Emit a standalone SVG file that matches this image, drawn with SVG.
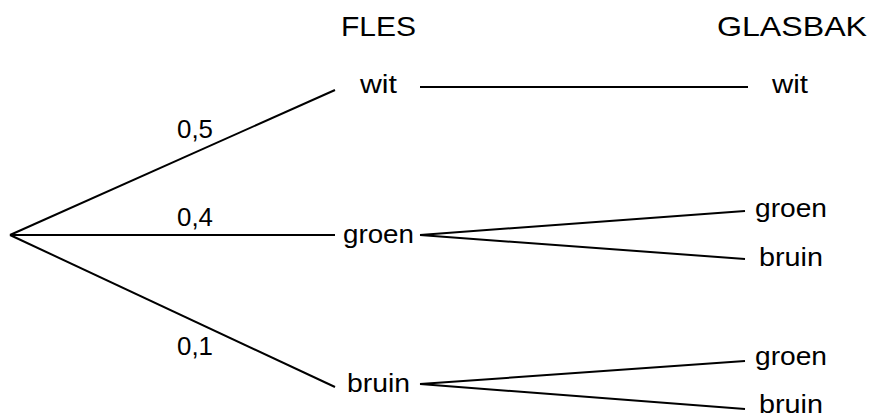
<svg xmlns="http://www.w3.org/2000/svg" width="869" height="418" viewBox="0 0 869 418">
<style>
text{font-family:"Liberation Sans",Arial,sans-serif;fill:#000}
.h{font-size:28px}
.n{font-size:26px}
.p{font-size:25px}
.c line{stroke:#000;stroke-width:2;stroke-linecap:butt}
</style>
<rect width="869" height="418" fill="#fff"/>
<g id="headers">
<text class="h" x="341" y="36" textLength="75" lengthAdjust="spacingAndGlyphs">FLES</text>
<text class="h" x="717" y="36" textLength="150" lengthAdjust="spacingAndGlyphs">GLASBAK</text>
</g>
<g class="c" id="connectors">
<line x1="10" y1="235" x2="335" y2="90"/>
<line x1="10" y1="235" x2="335" y2="235"/>
<line x1="10" y1="235" x2="335" y2="387"/>
<line x1="420" y1="87" x2="748" y2="87"/>
<line x1="420" y1="235" x2="745" y2="211"/>
<line x1="420" y1="235" x2="745" y2="259"/>
<line x1="420" y1="384" x2="745" y2="361"/>
<line x1="420" y1="384" x2="745" y2="409"/>
</g>
<g id="labels">
<text class="p" x="177" y="138" textLength="36" lengthAdjust="spacingAndGlyphs">0,5</text>
<text class="p" x="177" y="226" textLength="36" lengthAdjust="spacingAndGlyphs">0,4</text>
<text class="p" x="177" y="355" textLength="36" lengthAdjust="spacingAndGlyphs">0,1</text>
</g>
<g id="node-fles-wit"><text class="n" x="360" y="93" textLength="37" lengthAdjust="spacingAndGlyphs">wit</text></g>
<g id="node-fles-groen"><text class="n" x="343" y="243" textLength="71" lengthAdjust="spacingAndGlyphs">groen</text></g>
<g id="node-fles-bruin"><text class="n" x="347" y="392" textLength="63" lengthAdjust="spacingAndGlyphs">bruin</text></g>
<g id="node-glas-wit"><text class="n" x="772" y="93" textLength="36" lengthAdjust="spacingAndGlyphs">wit</text></g>
<g id="node-glas-groen1"><text class="n" x="755" y="217" textLength="72" lengthAdjust="spacingAndGlyphs">groen</text></g>
<g id="node-glas-bruin1"><text class="n" x="759" y="266" textLength="64" lengthAdjust="spacingAndGlyphs">bruin</text></g>
<g id="node-glas-groen2"><text class="n" x="755" y="365" textLength="72" lengthAdjust="spacingAndGlyphs">groen</text></g>
<g id="node-glas-bruin2"><text class="n" x="759" y="413" textLength="64" lengthAdjust="spacingAndGlyphs">bruin</text></g>
</svg>
